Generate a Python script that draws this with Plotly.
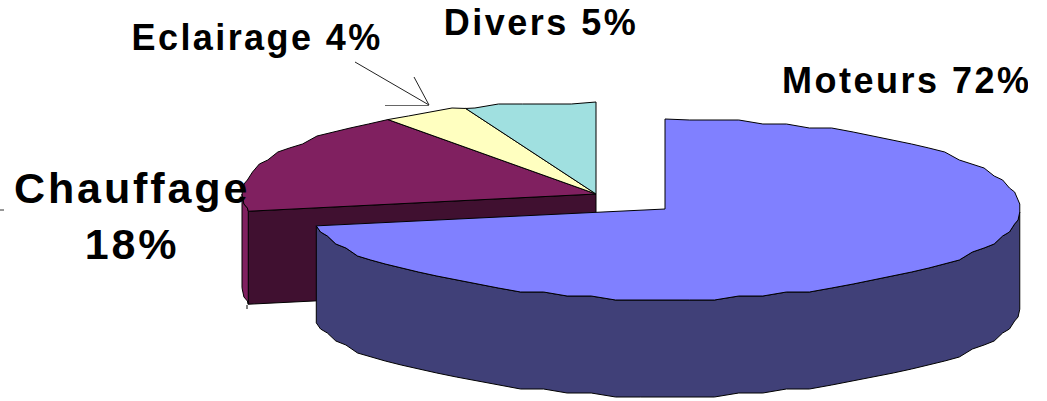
import numpy as np
import plotly.graph_objects as go

categories = ["Moteurs", "Chauffage", "Eclairage", "Divers"]
labels = ["Moteurs 72%", "Chauffage<br>18%", "Eclairage 4%", "Divers 5%"]
shares = [72, 18, 4, 6]   # sweep of each slice
top_colors = ["#8080FF", "#802060", "#FFFFC0", "#A0E0E0"]
side_colors = ["#404078", "#401030", "#808060", "#507070"]

W, H = 1047, 401
MAIN = dict(cx=665, cy=209, rx=355, ry=90, depth=97)
REST = dict(cx=596, cy=194, rx=354, ry=92, depth=93)
BLACK = "#000000"
STEP = 4.0


def rim(g, a0, a1, dz=0):
    lo, hi = min(a0, a1), max(a0, a1)
    inner = np.arange(np.ceil(lo / STEP), np.floor(hi / STEP) + 1) * STEP
    inner = inner[(inner > lo) & (inner < hi)]
    a = np.r_[lo, inner, hi]
    if a0 > a1:
        a = a[::-1]
    t = np.radians(a)
    x = g["cx"] + g["rx"] * np.sin(t)
    y = g["cy"] - g["ry"] * np.cos(t)
    # the source outline is a coarse staircase polygon
    y[1:-1] = np.round(y[1:-1] / 4.0) * 4.0
    return x, y + dz


def poly(fig, x, y, color, lw=1.0, line=BLACK):
    fig.add_trace(go.Scatter(x=np.r_[x, x[0]], y=np.r_[y, y[0]], mode="lines",
                             fill="toself", fillcolor=color,
                             line=dict(color=line, width=lw, shape="linear"),
                             hoverinfo="skip", showlegend=False))


edges = np.cumsum([0] + shares) / sum(shares) * 360
fig = go.Figure()

# back group: Chauffage, Eclairage, Divers share one centre
a0 = edges[1]
t0 = np.radians(a0)
rx0 = REST["cx"] + REST["rx"] * np.sin(t0)
ry0 = REST["cy"] - REST["ry"] * np.cos(t0)
poly(fig,
     np.r_[REST["cx"], rx0, rx0, REST["cx"]],
     np.r_[REST["cy"], ry0, ry0 + REST["depth"], REST["cy"] + REST["depth"]],
     side_colors[1])
wx, wy = rim(REST, a0, 270)
wbx, wby = rim(REST, 270, a0, REST["depth"])
poly(fig, np.r_[wx, wbx], np.r_[wy, wby], top_colors[1])
for i in [1, 2, 3]:
    x, y = rim(REST, edges[i], edges[i + 1])
    poly(fig, np.r_[REST["cx"], x], np.r_[REST["cy"], y], top_colors[i])

# front slice
a0, a1 = edges[0], edges[1]
tx, ty = rim(MAIN, 92, a1)
bx, by = rim(MAIN, a1, 92, MAIN["depth"])
poly(fig, np.r_[tx, bx], np.r_[ty, by], side_colors[0])
x, y = rim(MAIN, a0, a1)
poly(fig, np.r_[MAIN["cx"], x], np.r_[MAIN["cy"], y], top_colors[0])

# the first label is cut by the frame of the source picture
fig.add_trace(go.Scatter(x=[782], y=[84], mode="text", text=["<b>%s</b>" % labels[0]],
                         textposition="middle right", cliponaxis=False,
                         textfont=dict(family="Liberation Sans", size=36, color=BLACK),
                         hoverinfo="skip", showlegend=False))
poly(fig, np.array([1028.0, W, W, 1028.0]), np.array([55.0, 55.0, 112.0, 112.0]),
     "#FFFFFF", lw=0, line="rgba(0,0,0,0)")

text_x = [132, 257, 541]
text_y = [216, 37, 22]
sizes = [43, 36, 36]
for lab, tx_, ty_, s in zip(labels[1:], text_x, text_y, sizes):
    fig.add_annotation(x=tx_, y=ty_, text="<b>%s</b>" % lab, showarrow=False,
                       xanchor="center", yanchor="middle",
                       font=dict(family="Liberation Sans", size=s, color=BLACK))

shapes = [
    dict(type="line", x0=355, y0=62, x1=429, y1=105, line=dict(color="#222222", width=1)),
    dict(type="line", x0=414, y0=77, x1=429, y1=105, line=dict(color="#222222", width=1)),
    dict(type="line", x0=385, y0=105.5, x1=429, y1=105.5, line=dict(color="#666666", width=1)),
    dict(type="line", x0=247, y0=305, x1=247, y1=309, line=dict(color=BLACK, width=1)),
    dict(type="line", x0=0, y0=210, x1=4, y1=210, line=dict(color="#333333", width=1)),
]
fig.update_layout(
    width=W, height=H, margin=dict(l=0, r=0, t=0, b=0), paper_bgcolor="white",
    plot_bgcolor="white", showlegend=False, shapes=shapes,
    xaxis=dict(range=[0, W], visible=False, fixedrange=True),
    yaxis=dict(range=[H, 0], visible=False, fixedrange=True),
)
post = """
document.body.style.margin = '0';
var sp = [2.9, 2.4, 2.5];
document.querySelectorAll('.annotation-text').forEach(function (t, i) {
  t.style.letterSpacing = sp[i] + 'px';
});
document.querySelectorAll('.textpoint text').forEach(function (t) {
  t.style.letterSpacing = '2.5px';
});
"""
fig.write_html("out.html", config={"displayModeBar": False}, post_script=post)
